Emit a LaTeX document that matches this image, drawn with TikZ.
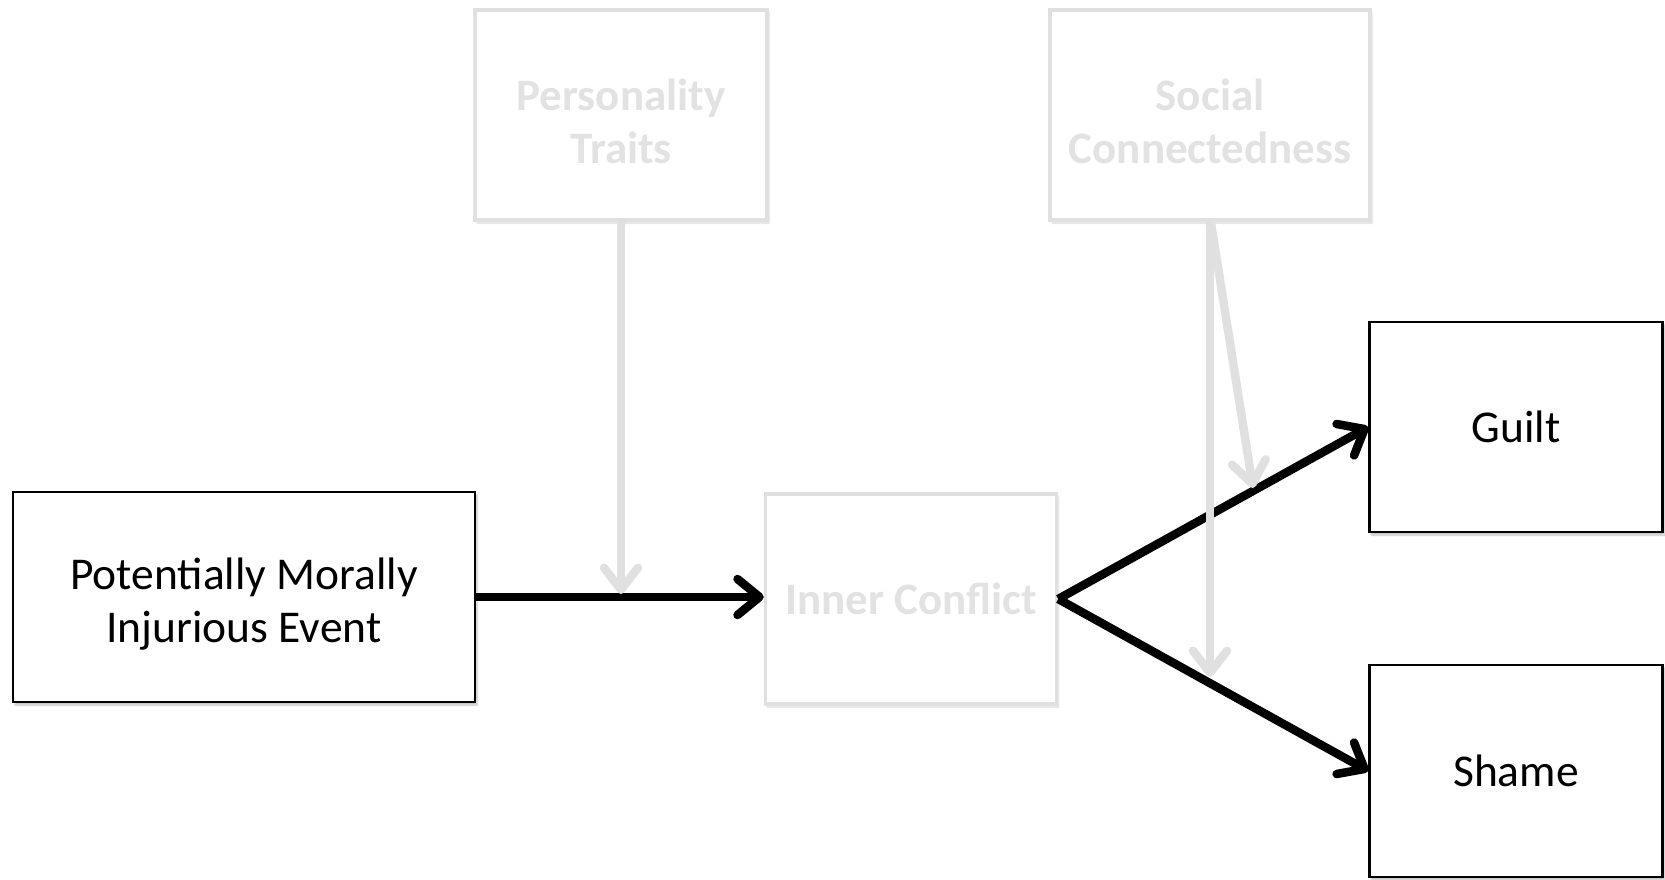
\documentclass[tikz,border=0pt]{standalone}
\usepackage{fontspec}
\setmainfont{Carlito}
\usetikzlibrary{arrows.meta,shadows.blur}

\definecolor{faded}{HTML}{E0E0E0}
\definecolor{fadedtext}{HTML}{E2E2E2}

% extra height on a first line so two-line labels sit a little lower
\newcommand{\tallstrut}{\rule{0pt}{45pt}}

\tikzset{
  every node/.style={font=\fontsize{45.5}{53}\selectfont, align=center, inner sep=0pt},
  solidbox/.style={draw=black, line width=2.5pt, fill=white,
    blur shadow={shadow xshift=2pt, shadow yshift=-3pt, shadow blur steps=6, shadow opacity=25}},
  fadedbox/.style={draw=faded, line width=3.5pt, fill=white, text=fadedtext,
    font=\fontsize{45}{53}\selectfont\bfseries,
    blur shadow={shadow xshift=2pt, shadow yshift=-3pt, shadow blur steps=6, shadow opacity=15}},
  mainarrow/.style={draw=black, line width=8.5pt,
    -{Straight Barb[length=22pt, width=36pt, round]}},
  fadedarrow/.style={draw=faded, line width=8.5pt,
    -{Straight Barb[length=22pt, width=34pt, round]}}
}

\begin{document}
\begin{tikzpicture}[x=1pt, y=-1pt]
  \useasboundingbox (0,0) rectangle (1665,880);

  % boxes
  \node[solidbox, minimum width=462pt, minimum height=210pt] (pmie) at (244,597)
    {\tallstrut Potentially Morally\\Injurious Event};
  \node[fadedbox, minimum width=292pt, minimum height=210pt] (pers) at (621,115)
    {\tallstrut Personality\\Traits};
  \node[fadedbox, minimum width=320pt, minimum height=210pt] (soc) at (1210,115)
    {\tallstrut Social\\Connectedness};
  \node[fadedbox, minimum width=291pt, minimum height=210pt] (inner) at (911,599)
    {Inner Conflict};
  \node[solidbox, minimum width=293pt, minimum height=210pt] (guilt) at (1516,427)
    {Guilt};
  \node[solidbox, minimum width=293pt, minimum height=212pt] (shame) at (1516,771)
    {Shame};

  % main pathway
  \draw[mainarrow] (pmie.east) -- (pmie.east -| inner.west);
  \draw[mainarrow] (inner.east) -- (guilt.west);
  \draw[mainarrow] (inner.east) -- (shame.west);

  % moderator ends
  \coordinate (persend) at (621,594);
  \coordinate (socstart) at (1211,223);
  \coordinate (socshame) at (1210,677);
  \coordinate (socguilt) at (1253,488);

  % moderating paths
  \draw[fadedarrow] (pers.south) -- (persend);
  \draw[fadedarrow] (soc.south) -- (socshame);
  \draw[fadedarrow] (socstart) -- (socguilt);
\end{tikzpicture}
\end{document}
